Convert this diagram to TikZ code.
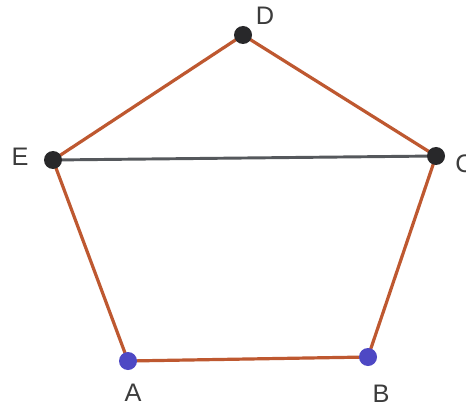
\documentclass[tikz,border=0pt]{standalone}
\usepackage{fontspec}
\setmainfont{Liberation Sans}
\definecolor{edgec}{RGB}{190,88,48}
\definecolor{segc}{RGB}{85,88,92}
\definecolor{darkpt}{RGB}{40,40,42}
\definecolor{bluept}{RGB}{78,72,196}
\definecolor{labc}{RGB}{60,60,60}
\begin{document}
\begin{tikzpicture}[x={(0.75pt,0)},y={(0,-0.75pt)},
  edge/.style={draw=edgec,line width=2.4pt},
  seg/.style={draw=segc,line width=2.2pt},
  dpt/.style={circle,fill=darkpt,inner sep=0pt,minimum size=13.5pt},
  bpt/.style={circle,fill=bluept,inner sep=0pt,minimum size=13.5pt},
  lab/.style={text=labc,font=\fontsize{19}{22}\selectfont,inner sep=0pt}]
\useasboundingbox[fill=white] (0,0) rectangle (466,413);
\coordinate (D) at (243,35);
\coordinate (E) at (53,160);
\coordinate (C) at (436,156);
\coordinate (A) at (128,361);
\coordinate (B) at (368,357);
\draw[edge] (A) -- (E) -- (D) -- (C) -- (B) -- (A);
\draw[seg] (E) -- (C);
\node[dpt] (nD) at (D) {};
\node[dpt] (nE) at (E) {};
\node[dpt] (nC) at (C) {};
\node[bpt] (nA) at (A) {};
\node[bpt] (nB) at (B) {};
\node[lab] (lD) at (265,16) {D};
\node[lab] (lE) at (20,157) {E};
\node[lab,anchor=west] (lC) at (455,164) {C};
\node[lab] (lA) at (133,393) {A};
\node[lab] (lB) at (381,394) {B};
\end{tikzpicture}
\end{document}
